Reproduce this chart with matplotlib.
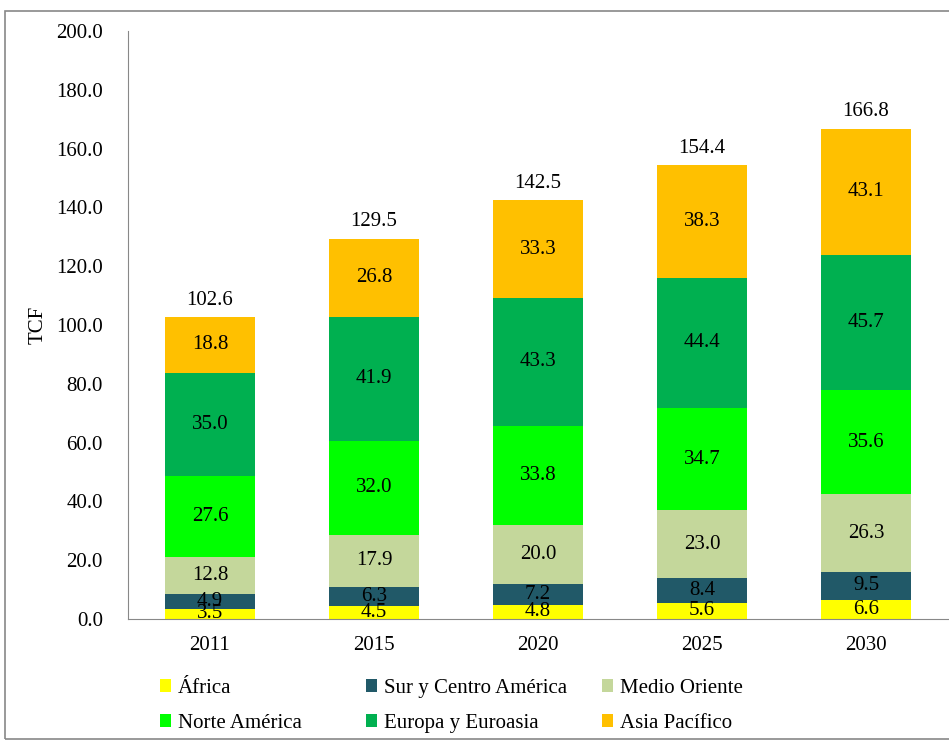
import matplotlib.pyplot as plt
import matplotlib.patches as mpatches
import numpy as np

plt.rcParams['font.family'] = ['Liberation Serif', 'DejaVu Serif']

years = ["2011", "2015", "2020", "2025", "2030"]
africa = [3.5, 4.5, 4.8, 5.6, 6.6]
sur_centro = [4.9, 6.3, 7.2, 8.4, 9.5]
medio_oriente = [12.8, 17.9, 20.0, 23.0, 26.3]
norte_america = [27.6, 32.0, 33.8, 34.7, 35.6]
europa = [35.0, 41.9, 43.3, 44.4, 45.7]
asia = [18.8, 26.8, 33.3, 38.3, 43.1]
totals = [102.6, 129.5, 142.5, 154.4, 166.8]

series = [
    ("África", africa, "#FFFF00"),
    ("Sur y Centro América", sur_centro, "#215968"),
    ("Medio Oriente", medio_oriente, "#C4D79B"),
    ("Norte América", norte_america, "#00FF00"),
    ("Europa y Euroasia", europa, "#00B050"),
    ("Asia Pacífico", asia, "#FFC000"),
]

fs = 15

fig = plt.figure(figsize=(9.49, 7.4), dpi=100)
ax = fig.add_axes([128 / 949, 1 - 619 / 740, 820 / 949, 588 / 740])

x = np.arange(len(years))
bottom = np.zeros(len(years))
handles = {}
for name, vals, color in series:
    bars = ax.bar(x, vals, 0.55, bottom=bottom, color=color, label=name)
    handles[name] = bars
    for xi, b, v in zip(x, bottom, vals):
        ax.text(xi, b + v / 2, f"{v:.1f}", ha="center", va="center", fontsize=fs, color="black")
    bottom = bottom + np.array(vals)

for xi, t, tot in zip(x, bottom, totals):
    ax.text(xi, t + 2.5, f"{tot:.1f}", ha="center", va="bottom", fontsize=fs)

ax.set_xlim(-0.5, len(years) - 0.5)
ax.set_ylim(0, 200)
ax.set_yticks(np.arange(0, 201, 20))
ax.set_yticklabels([f"{v:.1f}" for v in np.arange(0, 201, 20)])
ax.set_xticks(x)
ax.set_xticklabels(years)
ax.tick_params(axis="y", length=0, pad=18, labelsize=fs)
ax.tick_params(axis="x", length=0, pad=12, labelsize=fs)
ax.set_ylabel("TCF", fontsize=fs, labelpad=6)
for s in ["top", "right"]:
    ax.spines[s].set_visible(False)
for s in ["left", "bottom"]:
    ax.spines[s].set_color("#888888")

# figure frame
fig.patches.append(mpatches.Rectangle((5 / 949, 1 / 740), 1.2, 728 / 740, transform=fig.transFigure,
                                      fill=False, edgecolor="#888888", linewidth=1.2))

columns = [["África", "Norte América"], ["Sur y Centro América", "Europa y Euroasia"],
           ["Medio Oriente", "Asia Pacífico"]]
col_x = [160, 366, 602]
for names, cx in zip(columns, col_x):
    leg = fig.legend([handles[n] for n in names], names, loc="upper left",
                     bbox_to_anchor=(cx / 949, 1 - 679 / 740), frameon=False, fontsize=fs,
                     handlelength=0.55, handleheight=0.55, handletextpad=0.3,
                     labelspacing=0.75, borderpad=0, borderaxespad=0)

fig.savefig("out.png", dpi=100)
